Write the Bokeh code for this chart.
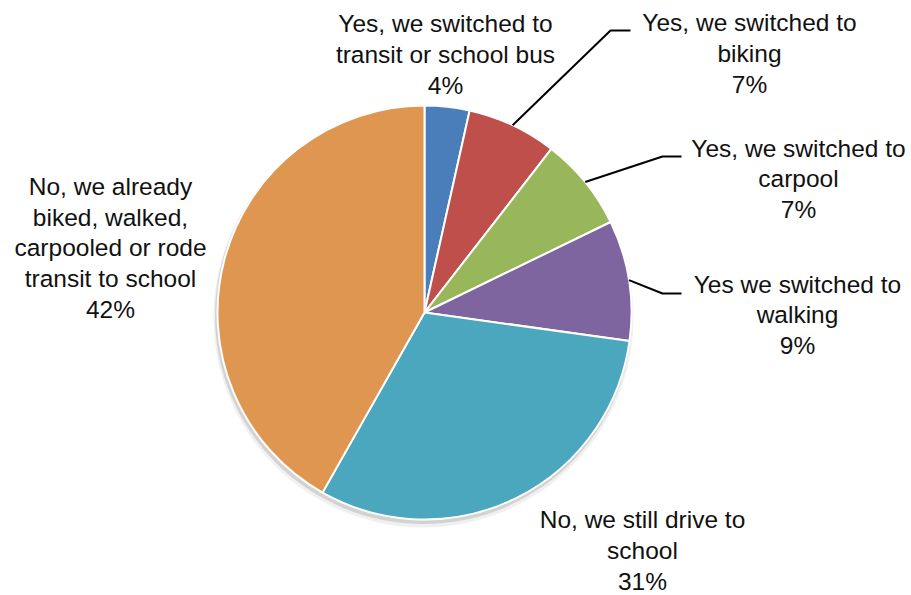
import math
from bokeh.plotting import figure
from bokeh.models import Range1d, ColumnDataSource
from bokeh.core.properties import value
from bokeh.embed import file_html
from bokeh.resources import INLINE

# ---- data ----
categories = [
    "Yes, we switched to\ntransit or school bus",
    "Yes, we switched to\nbiking",
    "Yes, we switched to\ncarpool",
    "Yes we switched to\nwalking",
    "No, we still drive to\nschool",
    "No, we already\nbiked, walked,\ncarpooled or rode\ntransit to school",
]
shares = [3.5, 7.0, 7.3, 9.4, 31.0, 41.8]
pct_labels = ["4%", "7%", "7%", "9%", "31%", "42%"]
colors = ["#4A7EBB", "#BE4F4B", "#98B75A", "#7F65A0", "#4BA7BE", "#DE9650"]

# ---- layout (screen pixel positions) ----
W, H = 911, 595
def sx(X): return X
def sy(Y): return H - Y

CX, CY, R = 424, 312, 207
label_pos = [(445, 54), (749, 53), (798, 178.5), (797, 314.5), (642, 550), (110, 247.5)]
# leader lines: (elbow, end) for slices that have one
leaders = {1: [(610, 30), (630, 30)], 2: [(662, 156), (681, 156)], 3: [(662, 293), (681, 293)]}

p = figure(width=W, height=H, output_backend="svg", toolbar_location=None,
           x_range=Range1d(0, W), y_range=Range1d(0, H), min_border=0)
p.axis.visible = False
p.grid.visible = False
p.outline_line_color = None
p.background_fill_color = "white"

# soft shadow
p.circle(x=[sx(CX) - 1], y=[sy(CY) - 5], radius=R + 3, fill_color="#000000", fill_alpha=0.06, line_color=None)
p.circle(x=[sx(CX) - 1], y=[sy(CY) - 3], radius=R + 1.5, fill_color="#000000", fill_alpha=0.12, line_color=None)

total = sum(shares)
starts, ends, mids = [], [], []
cum = 0.0
for s in shares:
    a0 = math.pi / 2 - 2 * math.pi * cum / total
    cum += s
    a1 = math.pi / 2 - 2 * math.pi * cum / total
    starts.append(a0); ends.append(a1); mids.append((a0 + a1) / 2)

src = ColumnDataSource(dict(start=starts, end=ends, color=colors))
p.wedge(x=sx(CX), y=sy(CY), radius=R, start_angle="start", end_angle="end",
        direction="clock", fill_color="color", line_color="white", line_width=2, source=src)

# leader lines
for i, pts in leaders.items():
    x0 = sx(CX) + R * math.cos(mids[i])
    y0 = sy(CY) + R * math.sin(mids[i])
    xs = [x0] + [sx(px) for px, _ in pts]
    ys = [y0] + [sy(py) for _, py in pts]
    p.line(xs, ys, line_color="black", line_width=2)

texts = [c + "\n" + pl for c, pl in zip(categories, pct_labels)]
tsrc = ColumnDataSource(dict(x=[sx(a) for a, _ in label_pos], y=[sy(b) for _, b in label_pos], t=texts))
p.text(x="x", y="y", text="t", source=tsrc, text_align="center", text_baseline="middle",
       text_font=value("Liberation Sans"), text_font_size="24.5px", text_color="#111111",
       text_line_height=1.14)

open("out.html", "w").write(file_html(p, INLINE))
